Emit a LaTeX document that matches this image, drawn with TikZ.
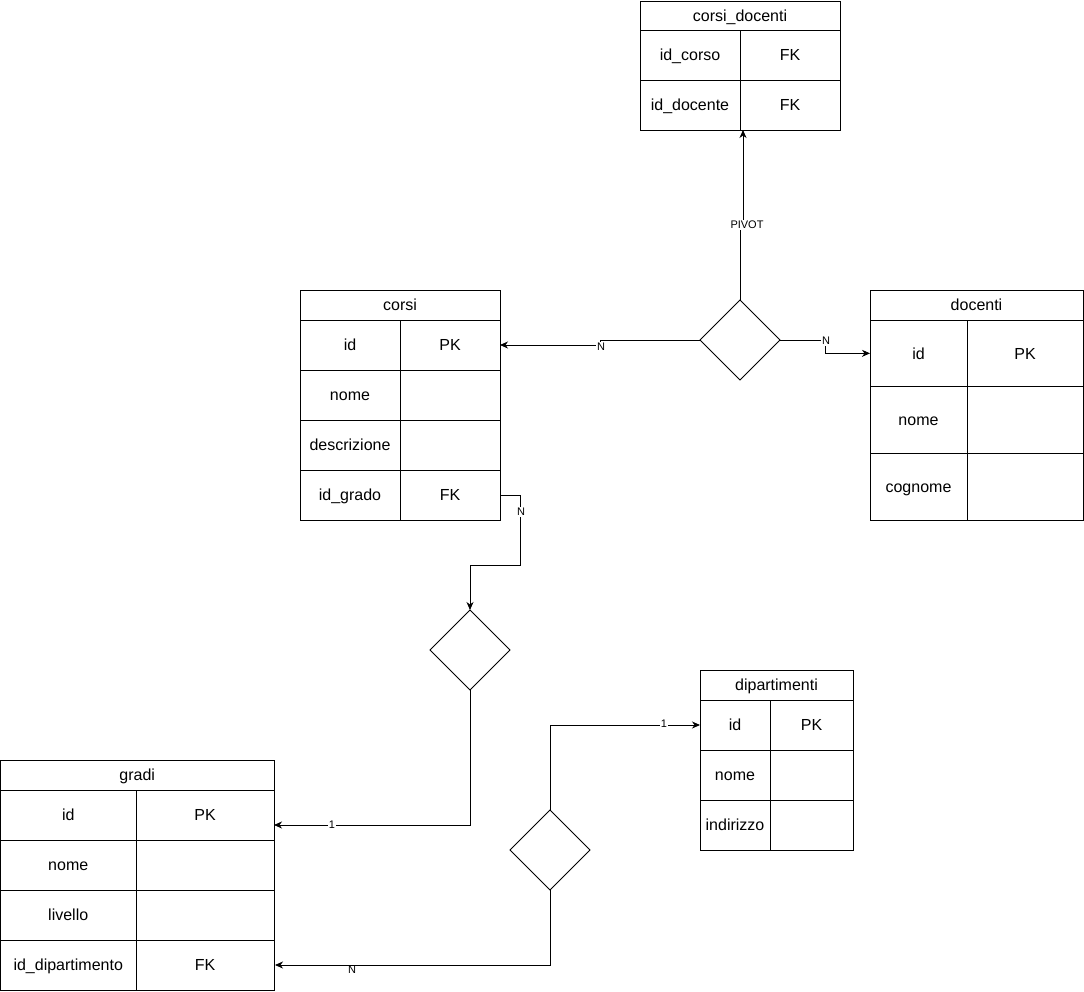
\documentclass[tikz,border=0pt]{standalone}
\usepackage{fontspec}
\setmainfont{Liberation Sans}
\usetikzlibrary{shapes.geometric,arrows.meta}
\tikzset{
  cell/.style={draw, line width=0.9pt, anchor=north west, inner sep=0pt, outer sep=0pt,
    text height=15pt, text depth=3.5pt,
    font=\fontsize{16}{19}\selectfont},
  relshape/.style={draw, line width=0.9pt, diamond, minimum width=80pt, minimum height=80pt,
    inner sep=0pt, outer sep=0pt},
  conn/.style={draw, line width=0.9pt, -{Stealth[length=8pt,width=7pt,inset=2.5pt]}},
  lbl/.style={fill=white, inner sep=1pt, font=\fontsize{11}{13}\selectfont},
}
\begin{document}
\begin{tikzpicture}[x=1pt,y=-1pt]
\useasboundingbox (0,0) rectangle (1084,991);

% corsi_docenti
\node[cell, minimum width=200pt, minimum height=29pt] (cdH) at (640,1) {corsi\_docenti};
\node[cell, minimum width=100pt, minimum height=50pt] (cdCorso) at (640,30) {id\_corso};
\node[cell, minimum width=100pt, minimum height=50pt] (cdCorsoK) at (740,30) {FK};
\node[cell, minimum width=100pt, minimum height=50pt] (cdDoc) at (640,80) {id\_docente};
\node[cell, minimum width=100pt, minimum height=50pt] (cdDocK) at (740,80) {FK};

% corsi
\node[cell, minimum width=200pt, minimum height=30pt] (coH) at (300,290) {corsi};
\node[cell, minimum width=100pt, minimum height=50pt] (coId) at (300,320) {id};
\node[cell, minimum width=100pt, minimum height=50pt] (coIdK) at (400,320) {PK};
\node[cell, minimum width=100pt, minimum height=50pt] (coNome) at (300,370) {nome};
\node[cell, minimum width=100pt, minimum height=50pt] (coNomeK) at (400,370) {};
\node[cell, minimum width=100pt, minimum height=50pt] (coDesc) at (300,420) {descrizione};
\node[cell, minimum width=100pt, minimum height=50pt] (coDescK) at (400,420) {};
\node[cell, minimum width=100pt, minimum height=50pt] (coGrado) at (300,470) {id\_grado};
\node[cell, minimum width=100pt, minimum height=50pt] (coGradoK) at (400,470) {FK};

% docenti
\node[cell, minimum width=213pt, minimum height=30pt] (doH) at (870,290) {docenti};
\node[cell, minimum width=97pt, minimum height=66.67pt] (doId) at (870,320) {id};
\node[cell, minimum width=116pt, minimum height=66.67pt] (doIdK) at (967,320) {PK};
\node[cell, minimum width=97pt, minimum height=66.67pt] (doNome) at (870,386.67) {nome};
\node[cell, minimum width=116pt, minimum height=66.67pt] (doNomeK) at (967,386.67) {};
\node[cell, minimum width=97pt, minimum height=66.67pt] (doCog) at (870,453.33) {cognome};
\node[cell, minimum width=116pt, minimum height=66.67pt] (doCogK) at (967,453.33) {};

% dipartimenti
\node[cell, minimum width=153pt, minimum height=30pt] (diH) at (700,670) {dipartimenti};
\node[cell, minimum width=70pt, minimum height=50pt] (diId) at (700,700) {id};
\node[cell, minimum width=83pt, minimum height=50pt] (diIdK) at (770,700) {PK};
\node[cell, minimum width=70pt, minimum height=50pt] (diNome) at (700,750) {nome};
\node[cell, minimum width=83pt, minimum height=50pt] (diNomeK) at (770,750) {};
\node[cell, minimum width=70pt, minimum height=50pt] (diInd) at (700,800) {indirizzo};
\node[cell, minimum width=83pt, minimum height=50pt] (diIndK) at (770,800) {};

% gradi
\node[cell, minimum width=273.5pt, minimum height=30pt] (grH) at (0.5,760) {gradi};
\node[cell, minimum width=135.5pt, minimum height=50pt] (grId) at (0.5,790) {id};
\node[cell, minimum width=138pt, minimum height=50pt] (grIdK) at (136,790) {PK};
\node[cell, minimum width=135.5pt, minimum height=50pt] (grNome) at (0.5,840) {nome};
\node[cell, minimum width=138pt, minimum height=50pt] (grNomeK) at (136,840) {};
\node[cell, minimum width=135.5pt, minimum height=50pt] (grLiv) at (0.5,890) {livello};
\node[cell, minimum width=138pt, minimum height=50pt] (grLivK) at (136,890) {};
\node[cell, minimum width=135.5pt, minimum height=50pt] (grDip) at (0.5,940) {id\_dipartimento};
\node[cell, minimum width=138pt, minimum height=50pt] (grDipK) at (136,940) {FK};

% relationships
\node[relshape] (d1) at (740,340) {};
\node[relshape] (d2) at (470,650) {};
\node[relshape] (d3) at (550,850) {};

% helper coordinates
\coordinate (p1a) at (740,228);
\coordinate (p1b) at (743,228);
\coordinate (p1c) at (743,130);
\coordinate (p2) at (600,340);
\coordinate (p3) at (825,340);
\coordinate (p4a) at (520,495);
\coordinate (p4b) at (520,565);
\coordinate (p5a) at (470,825);
\coordinate (p5b) at (274,825);

% connectors
\draw[conn] (d1.north) -- (p1a) -- (p1b) -- (p1c);
\node[lbl] (lPivot) at (747,225) {PIVOT};

\draw[conn] (d1.west) -- (p2) |- (coIdK.east);
\node[lbl] (lN1) at (601,347) {N};

\draw[conn] (d1.east) -- (p3) |- (doId.west);
\node[lbl] (lN2) at (826,341) {N};

\draw[conn] (coGradoK.east) -- (p4a) -- (p4b) -| (d2.north);
\node[lbl] (lN3) at (521,512) {N};

\draw[conn] (d2.south) -- (p5a) -- (p5b);
\node[lbl] (l1a) at (332,825) {1};

\draw[conn] (d3.north) |- (diId.west);
\node[lbl] (l1b) at (664,724) {1};

\draw[conn] (d3.south) |- ([xshift=1pt]grDipK.east);
\node[lbl, fill=none] (lN4) at (352,970) {N};
\end{tikzpicture}
\end{document}
